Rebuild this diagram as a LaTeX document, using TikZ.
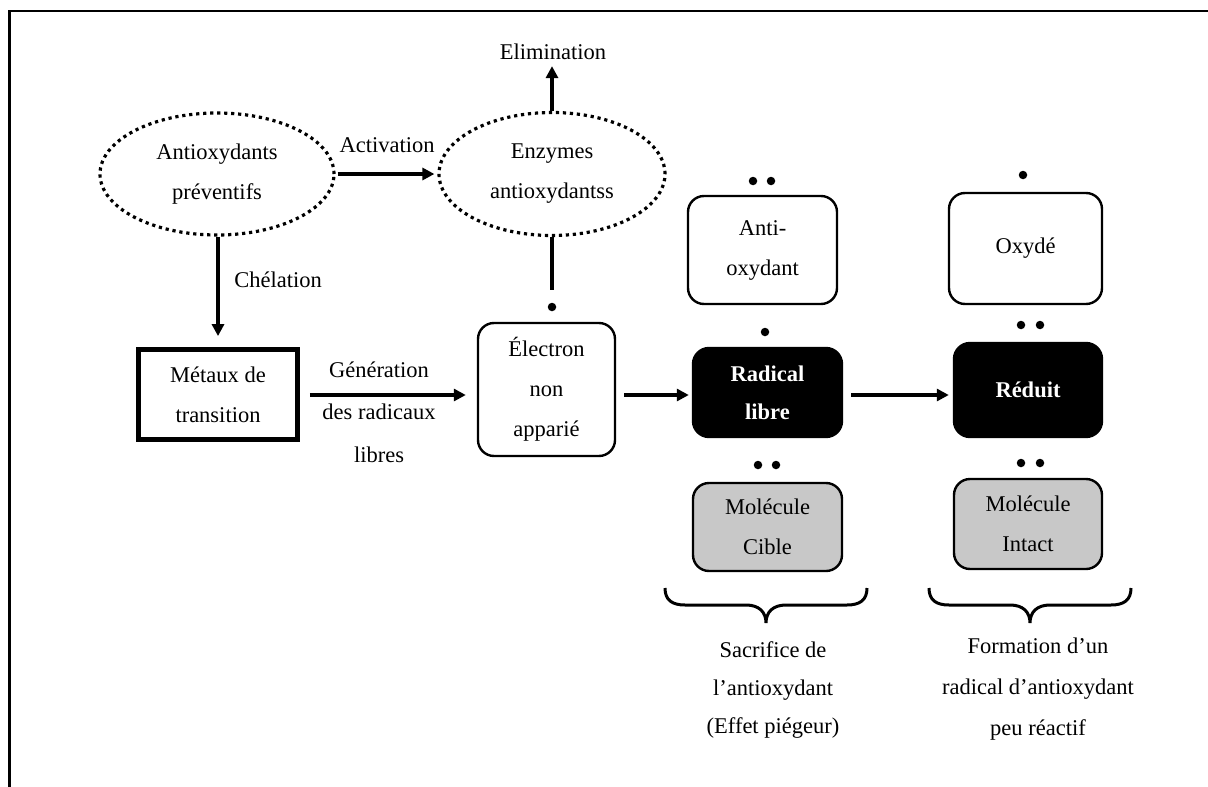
\documentclass[tikz,border=0pt]{standalone}
\usepackage{fontspec}
\setmainfont{Liberation Serif}
\usetikzlibrary{shapes.geometric,arrows.meta}
\definecolor{boxgray}{RGB}{200,200,200}
\begin{document}
\begin{tikzpicture}[x=1pt,y=-1pt,
 txt/.style={font=\fontsize{22.5}{40}\selectfont, align=center, inner sep=0pt},
 oval/.style={txt, ellipse, draw, line width=3.2pt, dash pattern=on 3.2pt off 3.8pt},
 rbox/.style={txt, draw, line width=2.4pt, rounded corners=16pt},
 wbox/.style={rbox, fill=white},
 bbox/.style={rbox, fill=black, text=white, font=\fontsize{22.5}{38}\selectfont\bfseries},
 gbox/.style={rbox, fill=boxgray},
 dot/.style={circle, fill=black, inner sep=0pt, minimum size=8.5pt},
 arr/.style={line width=3.4pt, -{Triangle[length=12pt,width=12pt]}},
 lnk/.style={line width=3.4pt},
 brc/.style={line width=3pt},
 ]
\useasboundingbox (0,0) rectangle (1208,787);
\draw[line width=2.8pt] (9.5,787) -- (9.5,11) -- (1208,11);

% ovals
\node[oval, minimum width=234pt, minimum height=122pt] (ap) at (217,174) {Antioxydants\\préventifs};
\node[oval, minimum width=226pt, minimum height=123pt] (enz) at (552,174) {Enzymes\\antioxydantss};
\node[txt] (elim) at (553,52) {Elimination};
\node[txt] (act) at (387,145) {Activation};
\node[txt] (chel) at (278,280) {Chélation};

% left boxes
\node[txt, draw, line width=4.8pt, minimum width=159pt, minimum height=90pt] (met) at (218,394.5) {Métaux de\\transition};
\node[txt, font=\fontsize{22.5}{42.5}\selectfont] (gen) at (379,412) {Génération\\des radicaux\\libres};
\node[wbox, minimum width=137pt, minimum height=133pt] (elec) at (546.5,389.5) {Électron\\non\\apparié};
\node[dot] (edot) at (552,307) {};

% middle column
\node[wbox, minimum width=149pt, minimum height=108pt] (anti) at (762.5,250) {Anti-\\oxydant};
\node[bbox, minimum width=149pt, minimum height=89pt] (rad) at (767.5,392.5) {Radical\\libre};
\node[gbox, minimum width=149pt, minimum height=88pt] (cible) at (767.5,527) {Molécule\\Cible};
\node[dot] (a1) at (753,181) {};
\node[dot] (a2) at (771,181) {};
\node[dot] (r1) at (765,332) {};
\node[dot] (c1) at (758,465) {};
\node[dot] (c2) at (776,465) {};

% right column
\node[wbox, minimum width=153pt, minimum height=111pt] (oxy) at (1025.5,248.5) {Oxydé};
\node[bbox, minimum width=148pt, minimum height=94pt] (red) at (1028,390) {Réduit};
\node[gbox, minimum width=148pt, minimum height=90pt] (intact) at (1028,524) {Molécule\\Intact};
\node[dot] (o1) at (1023,175) {};
\node[dot] (d1) at (1021,325) {};
\node[dot] (d2) at (1040,325) {};
\node[dot] (i1) at (1021,463) {};
\node[dot] (i2) at (1040,463) {};

% connectors
\coordinate (ay) at (0,395);
\draw[arr, shorten <=2pt, shorten >=3pt] (ap.east) -- (enz.west);
\draw[arr, shorten >=6pt] (enz.north) -- (enz.north |- elim.south);
\draw[lnk] (enz.south) -- (enz.south |- 0,290);
\draw[arr, shorten >=11pt] (ap.south -| met.north) -- (met.north);
\draw[arr, shorten <=10pt, shorten >=11pt] (met.east |- ay) -- (elec.west |- ay);
\draw[arr, shorten <=8pt, shorten >=3pt] (elec.east |- ay) -- (rad.west |- ay);
\draw[arr, shorten <=8pt, shorten >=4pt] (rad.east |- ay) -- (red.west |- ay);

% braces
\draw[brc] (665,588) .. controls (665,600) and (672,605) .. (685,605) -- (746,605)
  .. controls (759,605) and (766,612) .. (766,623)
  .. controls (766,612) and (773,605) .. (786,605) -- (847,605)
  .. controls (860,605) and (867,600) .. (867,588);
\draw[brc] (929,588) .. controls (929,600) and (936,605) .. (949,605) -- (1010,605)
  .. controls (1023,605) and (1030,612) .. (1030,623)
  .. controls (1030,612) and (1037,605) .. (1050,605) -- (1111,605)
  .. controls (1124,605) and (1131,600) .. (1131,588);

\node[txt, font=\fontsize{22.5}{38}\selectfont] (sac) at (773,690) {Sacrifice de\\l’antioxydant\\(Effet piégeur)};
\node[txt, font=\fontsize{22.5}{41}\selectfont] (form) at (1038,689) {Formation d’un\\radical d’antioxydant\\peu réactif};
\end{tikzpicture}
\end{document}
